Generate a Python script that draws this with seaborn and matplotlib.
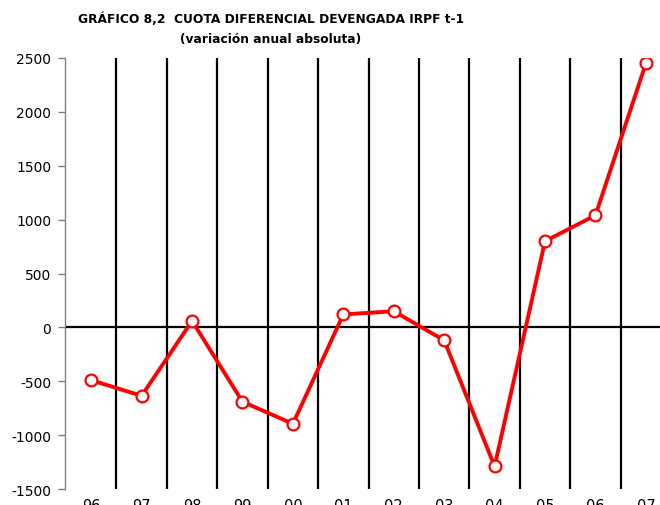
import matplotlib
matplotlib.use("Agg")
import matplotlib.pyplot as plt
import seaborn as sns
import pandas as pd

years = ["96", "97", "98", "99", "00", "01", "02", "03", "04", "05", "06", "07"]
values = [-490, -635, 60, -690, -895, 120, 150, -120, -1290, 800, 1040, 2450]
y_ticks = [-1500, -1000, -500, 0, 500, 1000, 1500, 2000, 2500]

sns.set_style("white", rc={"text.color": "black",
                           "xtick.color": "black",
                           "ytick.color": "black"})
plt.rcParams["font.family"] = ["DejaVu Sans"]

df = pd.DataFrame({"year": years, "value": values})

fig = plt.figure(figsize=(6.6, 5.06), dpi=100)
ax = fig.add_axes([0.0985, 0.0316, 0.9015, 0.8518])

# vertical separators between the years
for i in range(len(years) - 1):
    ax.axvline(i + 0.5, color="black", linewidth=1.6, zorder=1)
ax.axhline(0, color="black", linewidth=1.6, zorder=1)

sns.lineplot(
    data=df,
    x="year",
    y="value",
    sort=False,
    color="#ff0000",
    linewidth=2.8,
    marker="o",
    markersize=8.5,
    markerfacecolor="white",
    markeredgecolor="#ff0000",
    markeredgewidth=1.6,
    ax=ax,
    zorder=3
)

ax.set_xlim(-0.52, 11.28)
ax.set_ylim(-1500, 2500)
ax.set_yticks(y_ticks)
ax.set_yticklabels([str(v) for v in y_ticks], fontsize=10)
ax.tick_params(axis="y", left=True, length=5, width=1, color="#808080",
               labelcolor="black", pad=5)
ax.tick_params(axis="x", bottom=False, labelsize=10.5, labelcolor="black", pad=3)
ax.set_xlabel("")
ax.set_ylabel("")

for side in ["top", "right", "bottom"]:
    ax.spines[side].set_visible(False)
ax.spines["left"].set_color("#808080")
ax.spines["left"].set_linewidth(1)

fig.text(0.41, 0.962, "GRÁFICO 8,2  CUOTA DIFERENCIAL DEVENGADA IRPF t-1",
         ha="center", va="center", fontsize=8.8, fontweight="bold")
fig.text(0.41, 0.922, "(variación anual absoluta)",
         ha="center", va="center", fontsize=8.8, fontweight="bold")

fig.savefig("out.png", dpi=100)
